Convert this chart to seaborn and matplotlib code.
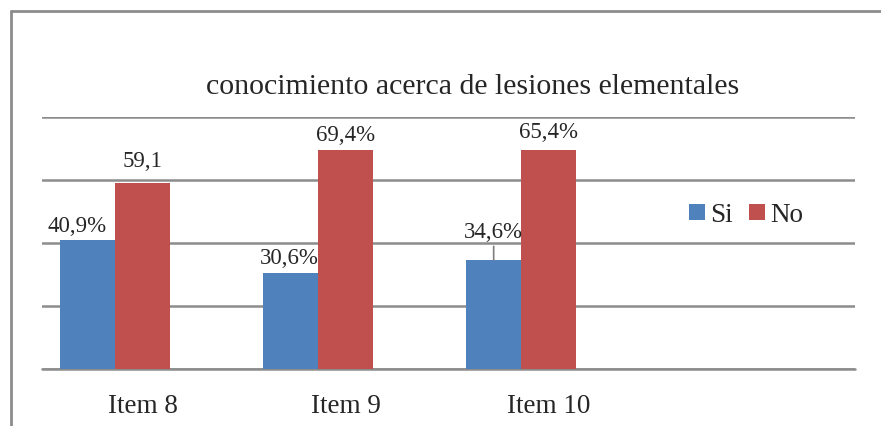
import matplotlib
matplotlib.use("Agg")
import matplotlib.pyplot as plt
import matplotlib.transforms as mtransforms
import pandas as pd
import seaborn as sns
from matplotlib.lines import Line2D

# DATA
items = ["Item 8", "Item 9", "Item 10"]
responses = ["Si", "No"]
si_values = [40.9, 30.6, 34.6]
no_values = [59.1, 69.4, 69.4]   # last bar is drawn at ~69 in the source, label says 65,4
si_labels = ["40,9%", "30,6%", "34,6%"]
no_labels = ["59,1", "69,4%", "65,4%"]
title = "conocimiento acerca de lesiones elementales"

colors = ["#4F81BD", "#C0504D"]
grid_color = "#8c8c8c"

df = pd.DataFrame({
    "item": items * 2,
    "resp": ["Si"] * len(items) + ["No"] * len(items),
    "pct": si_values + no_values,
})

sns.set_theme(style="white")
plt.rcParams["font.family"] = ["Liberation Serif", "DejaVu Serif"]

fig = plt.figure(figsize=(8.81, 4.26), dpi=100)
ax = fig.add_axes([42 / 881, 57 / 426, (855 - 42) / 881, (369 - 117) / 426])

sns.barplot(data=df, x="item", y="pct", hue="resp", hue_order=responses,
            palette=colors, width=0.54, saturation=1, linewidth=0, ax=ax)

ax.set_ylim(0, 80)
ax.set_xlim(-0.36, 3.645)
ax.set_yticks([0, 20, 40, 60, 80])
ax.set_yticklabels([])
ax.yaxis.grid(True, color=grid_color, linewidth=1.8)
ax.axhline(0, color=grid_color, linewidth=1.8, zorder=0.5, clip_on=False)
ax.set_axisbelow(True)
for s in ax.spines.values():
    s.set_visible(False)
ax.set_xlabel("")
ax.set_ylabel("")
ax.tick_params(axis="x", length=0, pad=18, labelsize=19.5)
ax.tick_params(axis="y", length=0)

# category labels sit a bit right of the bar groups in the source
shift = mtransforms.ScaledTranslation(28 / 100, 0, fig.dpi_scale_trans)
for lbl in ax.get_xticklabels():
    lbl.set_transform(lbl.get_transform() + shift)

# data labels (pixel nudges above each bar)
si_off = [(-11, 8), (-1, 9), (0, 22)]
no_off = [(0, 16), (0, 9), (0, 12)]
si_bars, no_bars = ax.containers[0], ax.containers[1]
for bar, lab, off in zip(si_bars, si_labels, si_off):
    x = bar.get_x() + bar.get_width() / 2
    arrow = None
    if off[1] > 15:
        arrow = dict(arrowstyle="-", color="#7f7f7f", lw=1.2,
                     shrinkA=0, shrinkB=0, relpos=(0.5, 0))
    ax.annotate(lab, (x, bar.get_height()), xytext=off,
                textcoords="offset pixels", ha="center", va="baseline",
                fontsize=16.5, arrowprops=arrow)
for bar, lab, off in zip(no_bars, no_labels, no_off):
    x = bar.get_x() + bar.get_width() / 2
    ax.annotate(lab, (x, bar.get_height()), xytext=off,
                textcoords="offset pixels", ha="center", va="baseline",
                fontsize=16.5)

ax.legend(loc="center left", bbox_to_anchor=((689 - 42) / 813, (369 - 215) / 252),
          ncol=2, frameon=False, fontsize=19.5, handlelength=0.58, handleheight=0.58,
          handletextpad=0.2, columnspacing=0.6, borderpad=0, borderaxespad=0)

fig.text(473 / 881, (426 - 87) / 426, title, ha="center", va="center", fontsize=21.5)

# chart frame (top and left edges visible)
fig.add_artist(Line2D([11 / 881, 1.0], [1 - 11 / 426, 1 - 11 / 426],
                      transform=fig.transFigure, color="#8c8c8c", lw=2))
fig.add_artist(Line2D([11 / 881, 11 / 881], [0, 1 - 11 / 426],
                      transform=fig.transFigure, color="#8c8c8c", lw=2))

fig.savefig("out.png", dpi=100)
